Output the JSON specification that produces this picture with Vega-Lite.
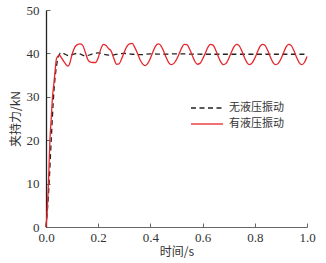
{
  "$schema": "https://vega.github.io/schema/vega-lite/v6.json",
  "autosize": {"type": "none"},
  "padding": {"left": 46, "top": 10, "right": 19, "bottom": 36},
  "width": 261,
  "height": 217,
  "background": "white",
  "config": {
    "view": {"stroke": null},
    "font": "Liberation Serif",
    "axis": {"grid": false, "tickColor": "#666", "labelColor": "#333", "titleColor": "#333", "labelFont": "Liberation Serif", "titleFont": "Noto Sans CJK SC", "labelFontSize": 13, "titleFontSize": 12, "titleFontWeight": "normal", "tickSize": -4, "labelFlush": false},
    "legend": {"title": null, "orient": "none", "symbolType": "stroke", "symbolSize": 1024, "symbolStrokeWidth": 1.3, "labelFont": "Noto Sans CJK SC", "labelFontSize": 11, "labelColor": "#333", "labelOffset": 5}
  },
  "datasets": {
    "red": [
      {"t":0,"v":0},{"t":0.005,"v":4},{"t":0.01,"v":11},{"t":0.015,"v":20},{"t":0.02,"v":25},{"t":0.025,"v":30},{"t":0.03,"v":33},{"t":0.035,"v":36},{"t":0.04,"v":38.8},{"t":0.045,"v":39.3},{"t":0.05,"v":39.6},{"t":0.055,"v":39.4},{"t":0.06,"v":38.9},{"t":0.07,"v":38},{"t":0.08,"v":37.2},{"t":0.085,"v":37.1},{"t":0.09,"v":37.5},{"t":0.1,"v":39.8},{"t":0.11,"v":41.4},{"t":0.12,"v":42},{"t":0.13,"v":42.2},{"t":0.14,"v":41.9},{"t":0.15,"v":40.4},{"t":0.16,"v":38.6},{"t":0.17,"v":38},{"t":0.18,"v":37.9},{"t":0.19,"v":37.9},{"t":0.2,"v":39},{"t":0.21,"v":41},{"t":0.22,"v":42.1},{"t":0.23,"v":41.8},{"t":0.24,"v":41.1},{"t":0.25,"v":40.5},{"t":0.26,"v":38.8},{"t":0.27,"v":37.5},{"t":0.28,"v":37.6},{"t":0.29,"v":38.8},{"t":0.3,"v":40.3},{"t":0.31,"v":41.6},{"t":0.32,"v":42.2},{"t":0.33,"v":42.3},{"t":0.34,"v":41.4},{"t":0.35,"v":40.1},{"t":0.36,"v":38.6},{"t":0.37,"v":37.6},{"t":0.38,"v":37.2},{"t":0.39,"v":37.7},{"t":0.4,"v":38.9},{"t":0.41,"v":40.4},{"t":0.42,"v":41.7},{"t":0.43,"v":42.2},{"t":0.44,"v":41.8},{"t":0.45,"v":40.6},{"t":0.46,"v":39.1},{"t":0.47,"v":37.9},{"t":0.48,"v":37.4},{"t":0.49,"v":37.7},{"t":0.5,"v":38.6},{"t":0.51,"v":39.9},{"t":0.52,"v":41.3},{"t":0.53,"v":42.1},{"t":0.54,"v":42.0},{"t":0.55,"v":41.0},{"t":0.56,"v":39.6},{"t":0.57,"v":38.2},{"t":0.58,"v":37.5},{"t":0.59,"v":37.7},{"t":0.6,"v":38.7},{"t":0.61,"v":40.0},{"t":0.62,"v":41.4},{"t":0.63,"v":42.1},{"t":0.64,"v":41.9},{"t":0.65,"v":40.8},{"t":0.66,"v":39.3},{"t":0.67,"v":38.0},{"t":0.68,"v":37.4},{"t":0.69,"v":37.7},{"t":0.7,"v":38.8},{"t":0.71,"v":40.2},{"t":0.72,"v":41.5},{"t":0.73,"v":42.1},{"t":0.74,"v":41.8},{"t":0.75,"v":40.6},{"t":0.76,"v":39.1},{"t":0.77,"v":37.9},{"t":0.78,"v":37.4},{"t":0.79,"v":37.8},{"t":0.8,"v":38.9},{"t":0.81,"v":40.3},{"t":0.82,"v":41.6},{"t":0.83,"v":42.1},{"t":0.84,"v":41.8},{"t":0.85,"v":40.6},{"t":0.86,"v":39.1},{"t":0.87,"v":37.9},{"t":0.88,"v":37.4},{"t":0.89,"v":37.7},{"t":0.9,"v":38.7},{"t":0.91,"v":40.1},{"t":0.92,"v":41.5},{"t":0.93,"v":42.1},{"t":0.94,"v":41.8},{"t":0.95,"v":40.6},{"t":0.96,"v":39.1},{"t":0.97,"v":37.9},{"t":0.98,"v":37.4},{"t":0.99,"v":37.9},{"t":1.0,"v":39.3}
    ],
    "black": [
      {"t":0,"v":0},{"t":0.01,"v":8},{"t":0.02,"v":20},{"t":0.03,"v":31},{"t":0.04,"v":37},{"t":0.05,"v":39.6},{"t":0.055,"v":40.1},{"t":0.06,"v":40.2},{"t":0.07,"v":39.9},{"t":0.08,"v":39.6},{"t":0.09,"v":39.5},{"t":0.1,"v":39.7},{"t":0.11,"v":39.9},{"t":0.12,"v":40.0},{"t":0.13,"v":39.9},{"t":0.14,"v":39.6},{"t":0.15,"v":39.4},{"t":0.16,"v":39.5},{"t":0.17,"v":39.7},{"t":0.18,"v":39.9},{"t":0.2,"v":40.1},{"t":0.22,"v":39.8},{"t":0.25,"v":39.6},{"t":0.28,"v":39.9},{"t":0.3,"v":40.0},{"t":0.33,"v":39.8},{"t":0.36,"v":39.7},{"t":0.4,"v":39.9},{"t":0.45,"v":39.8},{"t":0.5,"v":39.9},{"t":0.6,"v":39.8},{"t":0.7,"v":39.8},{"t":0.8,"v":39.8},{"t":0.9,"v":39.8},{"t":1.0,"v":39.8}
    ]
  },
  "layer": [
    {
      "data": {"name": "black"},
      "transform": [{"calculate": "'无液压振动'", "as": "s"}],
      "mark": {"type": "line", "strokeWidth": 1.3, "interpolate": "monotone", "color": "#222222"},
      "encoding": {
        "x": {"field": "t", "type": "quantitative", "scale": {"domain": [0, 1]}, "axis": {"title": "时间/s", "values": [0, 0.2, 0.4, 0.6, 0.8, 1.0], "format": ".1f", "labelPadding": 8, "titlePadding": 2, "labelFont": "Liberation Serif", "labelFlush": false, "domainColor": "#666", "domainWidth": 1}},
        "y": {"field": "v", "type": "quantitative", "scale": {"domain": [0, 50]}, "axis": {"title": "夹持力/kN", "values": [0, 10, 20, 30, 40, 50], "labelPadding": 11, "titlePadding": 4, "labelFont": "Liberation Serif", "labelFlush": false, "domainColor": "#222", "domainWidth": 1.3}},
        "strokeDash": {"field": "s", "type": "nominal", "scale": {"domain": ["无液压振动"], "range": [[5, 3.5]]}, "legend": {"legendX": 144, "legendY": 81, "symbolStrokeColor": "#222222"}}
      }
    },
    {
      "data": {"name": "red"},
      "transform": [{"calculate": "'有液压振动'", "as": "r"}],
      "mark": {"type": "line", "strokeWidth": 1.3, "interpolate": "monotone"},
      "encoding": {
        "x": {"field": "t", "type": "quantitative"},
        "y": {"field": "v", "type": "quantitative"},
        "color": {"field": "r", "type": "nominal", "scale": {"domain": ["有液压振动"], "range": ["#e8252b"]}, "legend": {"legendX": 144, "legendY": 97}}
      }
    }
  ]
}
